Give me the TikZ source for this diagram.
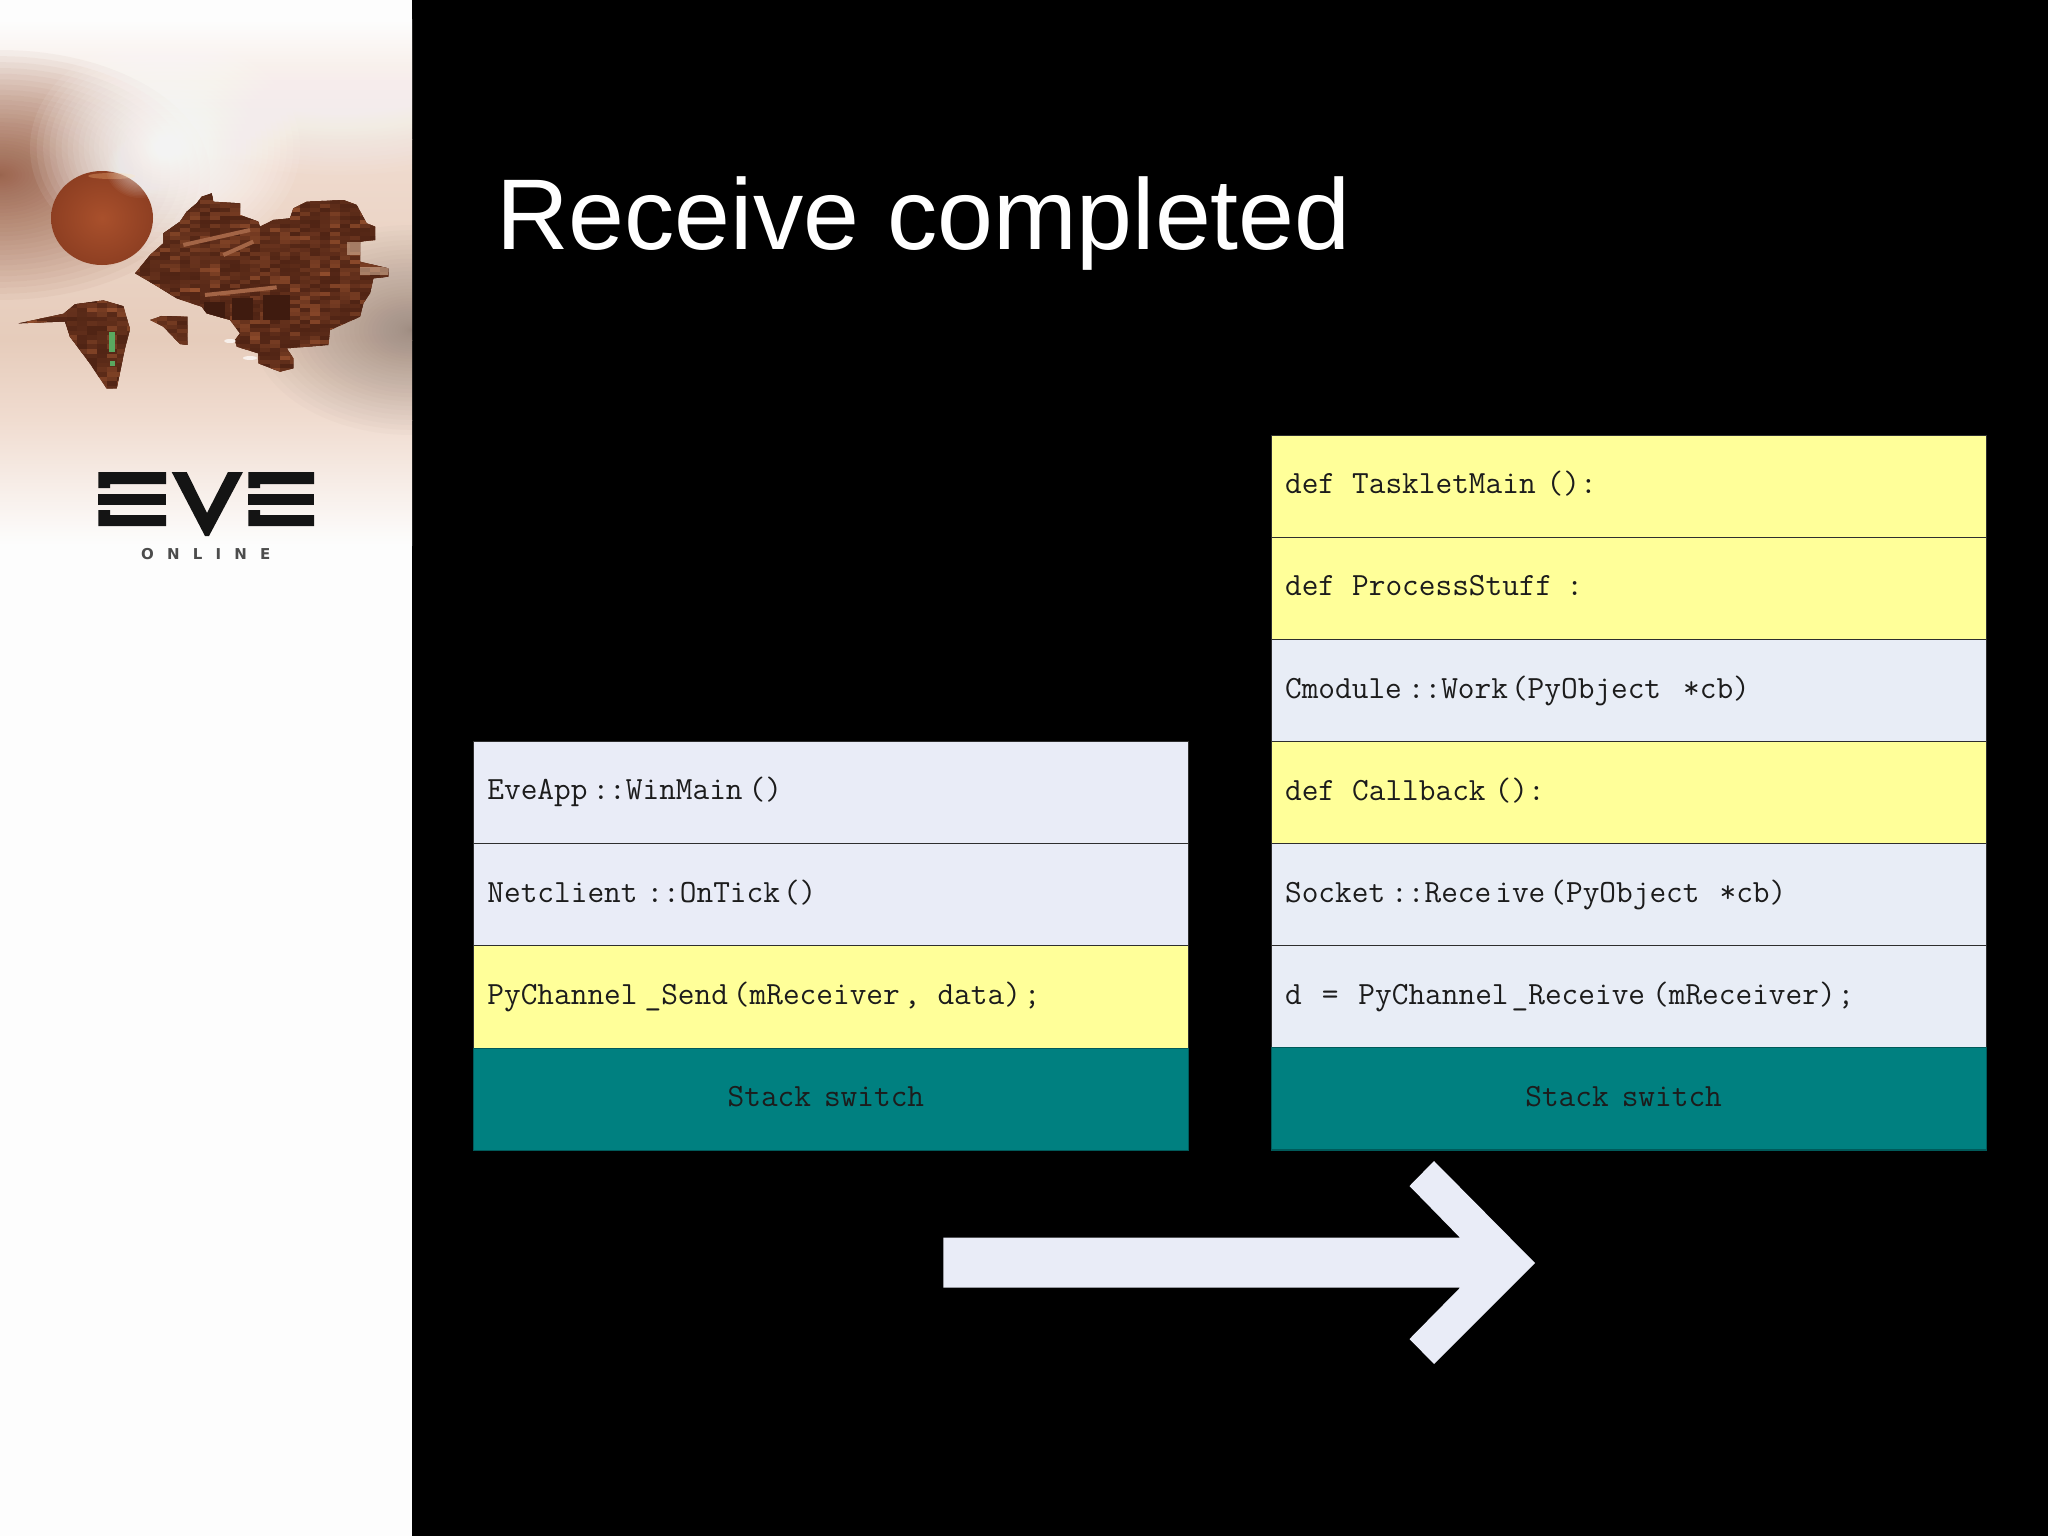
\documentclass[tikz,border=0pt]{standalone}
\usepackage{fontspec}
\setmainfont{Liberation Sans}
\setmonofont{Latin Modern Mono}
\definecolor{pale}{HTML}{E9ECF7}
\definecolor{paleb}{HTML}{E8EDF6}
\definecolor{lemon}{HTML}{FFFF99}
\definecolor{tealbox}{HTML}{008080}
\definecolor{ink}{HTML}{1C1C1C}
\definecolor{side}{HTML}{FDFDFD}
\definecolor{peach}{HTML}{F0DCD0}
\definecolor{peachb}{HTML}{E6CCBB}
\definecolor{rustd}{HTML}{4A2012}
\definecolor{rustl}{HTML}{96502E}
\definecolor{plan}{HTML}{A9502C}
\definecolor{plano}{HTML}{8E3F22}
\definecolor{haze}{HTML}{955A42}
\definecolor{grey}{HTML}{8F8078}
\definecolor{lamp}{HTML}{5AA860}
\newcommand{\glow}[6]{\foreach \k in {1,...,40}{\fill[#5,opacity=#6] (#1,#2) ellipse [x radius={#3*(\k/40)*(\k/40)},y radius={#4*(\k/40)*(\k/40)}];}}
\newcommand{\tiles}[2]{\foreach \tx in {#1}{\foreach \ty in {#2}{
    \pgfmathtruncatemacro{\mixv}{8+rnd*rnd*92}
    \pgfmathsetmacro{\wv}{30+60*rnd}
    \fill[rustl!\mixv!rustd] (\tx,\ty) rectangle ++(\wv,12);}}}
\newcommand{\gp}[1]{\hspace*{#1pt}}
\newcommand{\tsp}{\hspace*{17pt}}
\tikzset{
  stackbox/.style={draw=black!82,line width=1.2pt,minimum width=715pt,minimum height=102.3pt,anchor=north west,
    inner xsep=14pt,inner ysep=0pt,text width=687pt,align=left,text height=1.55em,text depth=.04em,text=ink,
    font=\ttfamily\fontsize{32.4}{33}\selectfont},
  warm/.style={stackbox,fill=lemon},
  cool/.style={stackbox,fill=pale},
  coolb/.style={stackbox,fill=paleb},
  swbox/.style={stackbox,fill=tealbox,align=center,draw=tealbox!70!black},
  logoink/.style={fill=black!92}
}
\begin{document}
\begin{tikzpicture}[x=1pt,y=-1pt]
\useasboundingbox (0,0) rectangle (2048,1536);
\fill[black] (0,0) rectangle (2048,1536);
% sidebar
\fill[side] (0,0) rectangle (412,1536);
\begin{scope}
\clip (0,0) rectangle (412,1536);
\shade[top color=side,bottom color=peach] (0,20) rectangle (412,140);
\shade[top color=peach,bottom color=peachb] (0,140) rectangle (412,340);
\shade[top color=peachb,bottom color=peach] (0,340) rectangle (412,420);
\shade[top color=peach,bottom color=side] (0,420) rectangle (412,545);
\glow{0}{175}{210}{125}{haze}{.05}
\glow{412}{330}{160}{105}{grey}{.035}
\glow{165}{148}{135}{110}{white}{.08}
\glow{340}{85}{200}{90}{white}{.05}
\end{scope}
% planet
\shade[inner color=plan,outer color=plano] (102,218) ellipse [x radius=51,y radius=47];
\fill[orange!50!white,opacity=.3] (112,176) ellipse [x radius=24,y radius=3];
\glow{140}{168}{34}{30}{white}{.04}
% main ship
\begin{scope}[shift={(130,180)},scale=1/3]
\clip (15,280)--(40,250)--(60,225)--(100,190)--(100,160)--(150,125)--(170,95)--(200,70)--(215,50)--(245,40)--(250,65)--(330,70)--(330,105)--(385,125)--(390,140)--(430,120)--(480,115)--(490,85)--(530,65)--(640,60)--(680,75)--(710,130)--(735,140)--(735,180)--(690,185)--(690,245)--(775,265)--(775,290)--(730,295)--(720,340)--(700,370)--(690,410)--(600,450)--(595,495)--(470,505)--(490,535)--(490,565)--(450,575)--(385,550)--(385,520)--(320,500)--(315,480)--(330,460)--(300,420)--(230,400)--(215,380)--(140,355)--(100,330)--(50,300)--cycle;
\fill[rustd!70!rustl] (0,0) rectangle (800,600);
\pgfmathsetseed{4711}
\tiles{0,30,...,780}{36,48,...,580}
\fill[rustd!85!black] (222,365) rectangle (285,415);
\fill[rustd!85!black] (305,355) rectangle (370,420);
\fill[rustd!85!black] (400,345) rectangle (480,420);
\draw[rustl!85!peach,line width=4pt] (225,345)--(440,322);
\draw[rustl!85!peach,line width=4pt] (160,195)--(360,150);
\draw[rustl!85!peach,line width=4pt] (280,225)--(370,185);
\fill[peach!70!brown,opacity=.55] (650,185) rectangle (735,225);
\fill[peach!70!brown,opacity=.55] (690,260) rectangle (775,285);
\end{scope}
% small ship, middle
\begin{scope}[shift={(130,180)},scale=1/3]
\clip (60,420)--(95,408)--(172,410)--(172,495)--(150,492)--(100,440)--cycle;
\fill[rustd] (50,400) rectangle (180,500);
\tiles{50,80,...,170}{400,412,...,490}
\end{scope}
% small ship, left
\begin{scope}[xscale=1/3,yscale=1/2.613]
\begin{scope}
\clip (55,845)--(190,820)--(225,795)--(310,785)--(370,800)--(390,860)--(375,910)--(350,1015)--(320,1015)--(270,950)--(210,880)--(195,840)--cycle;
\fill[rustd] (50,780) rectangle (400,1020);
\tiles{50,80,...,390}{780,792,...,1015}
\end{scope}
\fill[lamp] (328,868) rectangle (346,920);
\fill[lamp] (330,942) rectangle (344,955);
\end{scope}
% exhaust sparks
\fill[white,opacity=.7] (230,341) ellipse [x radius=6,y radius=2];
\fill[white,opacity=.7] (250,358) ellipse [x radius=7,y radius=2];
% EVE logo
\fill[logoink] (98.3,472)--(166,472)--(166,484)--(110,484)--(110,488)--(98.3,488)--cycle;
\fill[logoink] (98.3,494) rectangle (166,505);
\fill[logoink] (98.3,510)--(110,510)--(110,515)--(166,515)--(166,526)--(98.3,526)--cycle;
\fill[logoink] (171.7,472)--(186.7,472)--(207,513)--(228,472)--(243,472)--(209,536)--(205,536)--cycle;
\fill[logoink] (248.3,472)--(314,472)--(314,484)--(260,484)--(260,488)--(248.3,488)--cycle;
\fill[logoink] (248.3,494) rectangle (314,505);
\fill[logoink] (248.3,510)--(260,510)--(260,515)--(314,515)--(314,526)--(248.3,526)--cycle;
\node[anchor=base west,inner sep=0pt,text=black!70,font={\fontspec{DejaVu Sans Bold}[LetterSpace=88]\fontsize{15}{15}\selectfont}] (online) at (141,559) {ONLINE};
% title
\node[anchor=base west,inner sep=0pt,text=white,font=\fontsize{100.5}{100}\selectfont] (title) at (496,249) {Receive completed};
% left stack
\node[cool] (a1) at (472.8,740.6) {EveApp\gp{5}::WinMain\gp{6}()};
\node[cool] (a2) at (472.8,842.9) {Netclient\gp{9}::OnTick\gp{3}()};
\node[warm] (a3) at (472.8,945.2) {PyChannel\gp{7}\_Send\gp{5}(mReceiver\gp{4},\tsp data)\gp{3};};
\node[swbox] (a4) at (472.8,1047.5) {Stack\gp{13}switch\hspace*{10pt}};
% right stack
\node[warm] (b1) at (1270.5,434.5) {def\tsp TaskletMain\gp{11}():};
\node[warm] (b2) at (1270.5,536.6) {def\tsp ProcessStuff\gp{14}:};
\node[coolb] (b3) at (1270.5,638.7) {Cmodule\gp{6}::Work\gp{3}(PyObject\gp{22}*cb)};
\node[warm] (b4) at (1270.5,740.8) {def\tsp Callback\gp{9}():};
\node[coolb] (b5) at (1270.5,842.9) {Socket\gp{6}::Rece\gp{4}ive\gp{4}(PyObject\gp{20}*cb)};
\node[coolb] (b6) at (1270.5,945) {d\gp{20}=\gp{20}PyChannel\gp{3}\_Receive\gp{7}(mReceiver)\gp{2};};
\node[swbox] (b7) at (1270.5,1047.1) {Stack\gp{13}switch\hspace*{10pt}};
% arrow
\fill[pale] (943.4,1237.7)--(1460,1237.7)--(1409.5,1186)--(1434,1161)--(1535,1263)--(1434,1364)--(1409.5,1339)--(1460,1287.7)--(943.4,1287.7)--cycle;
\end{tikzpicture}
\end{document}
